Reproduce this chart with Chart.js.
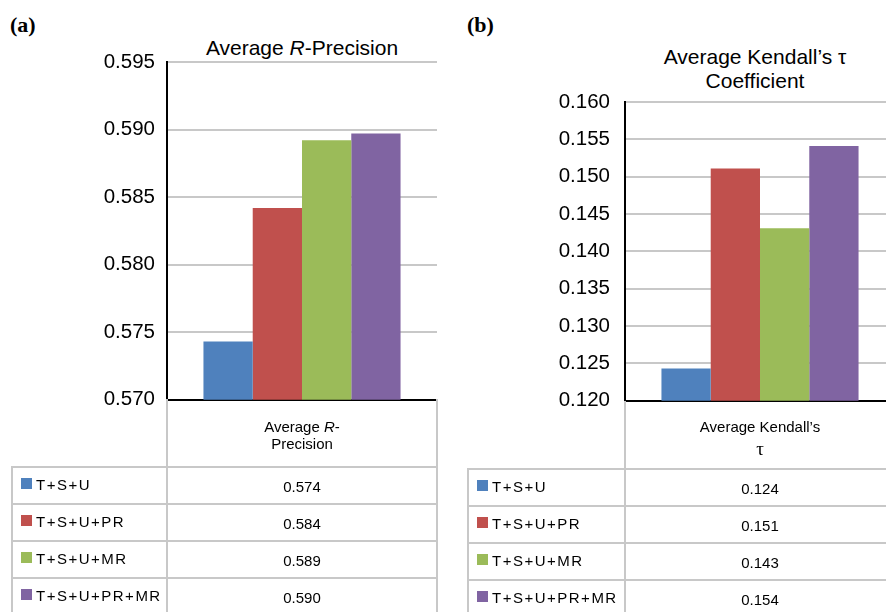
<!DOCTYPE html>
<html>
<head>
<meta charset="utf-8">
<script src="https://cdn.jsdelivr.net/npm/chart.js@4.4.1/dist/chart.umd.min.js"></script>
<style>
  html, body { margin: 0; padding: 0; background: #fff; }
  #page { position: relative; width: 886px; height: 612px; overflow: hidden; font-family: 'Liberation Sans', Arial, sans-serif; color: #000; }
  .abs { position: absolute; }
  .panel-label { font-family: 'Liberation Serif', 'Times New Roman', serif; font-weight: bold; font-size: 22px; }
  .title { font-size: 21px; line-height: 24px; text-align: center; }
  .line { position: absolute; background: #c8c8c8; }
  .cell { position: absolute; font-size: 15px; line-height: 18px; text-align: center; white-space: nowrap; }
  .legend-text { position: absolute; font-size: 15px; line-height: 18px; letter-spacing: 1.5px; white-space: nowrap; }
  .swatch { position: absolute; width: 11px; height: 11px; }
</style>
</head>
<body>
<div id="page">
  <div class="abs panel-label" style="left:10px; top:12px;">(a)</div>
  <div class="abs panel-label" style="left:467px; top:12px;">(b)</div>
  <div class="abs title" style="left:167px; top:36px; width:270px;">Average <i>R</i>-Precision</div>
  <div class="abs title" style="left:605px; top:45px; width:300px;">Average Kendall’s τ<br>Coefficient</div>
  <div class="abs" style="left:0; top:0; width:443px; height:424px;"><canvas id="chartA" width="443" height="424"></canvas></div>
  <div class="abs" style="left:443px; top:0; width:460px; height:428px;"><canvas id="chartB" width="460" height="428"></canvas></div>
</div>
<script>
// series shared by both panels
const seriesNames = ['T+S+U', 'T+S+U+PR', 'T+S+U+MR', 'T+S+U+PR+MR'];
const seriesColors = ['#4F81BD', '#C0504D', '#9BBB59', '#8064A2'];

// (a) Average R-Precision
const precisionValues = [0.5743, 0.5842, 0.5892, 0.5897];
const precisionTable = ['0.574', '0.584', '0.589', '0.590'];
const precisionAxis = { min: 0.570, max: 0.595, step: 0.005 };

// (b) Average Kendall's tau
const kendallValues = [0.1243, 0.1511, 0.1431, 0.1541];
const kendallTable = ['0.124', '0.151', '0.143', '0.154'];
const kendallAxis = { min: 0.120, max: 0.160, step: 0.005 };

Chart.defaults.font.family = "'Liberation Sans', Arial, sans-serif";
Chart.defaults.color = '#000';

function makeChart(id, values, axis, yWidth, padding, tickPad) {
  const ctx = document.getElementById(id).getContext('2d');
  return new Chart(ctx, {
    type: 'bar',
    data: {
      labels: [''],
      datasets: seriesNames.map((name, i) => ({
        label: name,
        data: [values[i]],
        backgroundColor: seriesColors[i],
        borderWidth: 0,
        categoryPercentage: 0.73,
        barPercentage: 1.0
      }))
    },
    options: {
      responsive: false,
      animation: false,
      layout: { padding: padding },
      plugins: {
        legend: { display: false },
        title: { display: false },
        tooltip: { enabled: false }
      },
      scales: {
        x: {
          grid: { display: false, drawTicks: false },
          ticks: { display: false },
          border: { display: true, color: '#000', width: 2 },
          afterFit: scale => { scale.height = 0; }
        },
        y: {
          min: axis.min,
          max: axis.max,
          ticks: {
            stepSize: axis.step,
            padding: tickPad,
            font: { size: 20.5 },
            color: '#000',
            callback: v => Number(v).toFixed(3)
          },
          grid: { color: '#c8c8c8', lineWidth: 2, drawTicks: false },
          border: { display: true, color: '#000', width: 2 },
          afterFit: scale => { scale.width = yWidth; }
        }
      }
    }
  });
}

makeChart('chartA', precisionValues, precisionAxis, 167, { top: 62, bottom: 11, left: 0, right: 6 }, 12);
makeChart('chartB', kendallValues, kendallAxis, 182, { top: 102, bottom: 11, left: 0, right: 8 }, 15);

// data tables under each chart
const page = document.getElementById('page');

function addLine(x, y, w, h) {
  const d = document.createElement('div');
  d.className = 'line';
  d.style.left = x + 'px'; d.style.top = y + 'px';
  d.style.width = w + 'px'; d.style.height = h + 'px';
  page.appendChild(d);
}

function addText(cls, html, x, y, w) {
  const d = document.createElement('div');
  d.className = cls;
  d.innerHTML = html;
  d.style.left = x + 'px'; d.style.top = y + 'px';
  if (w) d.style.width = w + 'px';
  page.appendChild(d);
  return d;
}

function buildTable(t) {
  const rowH = 37;
  addLine(t.colX - 1, t.top, 2, 612 - t.top);
  addLine(t.rightX - 1, t.top, 2, 612 - t.top);
  addLine(t.leftX - 1, t.headBottom, 2, 612 - t.headBottom);
  for (let i = 0; i < seriesNames.length; i++) {
    addLine(t.leftX - 1, t.headBottom + i * rowH - 1, t.rightX - t.leftX + 2, 2);
  }
  t.header.forEach((h, i) => {
    const el = addText('cell', h.text, t.colX, h.y - 9, t.rightX - t.colX);
    if (h.style) el.style.cssText += h.style;
  });
  seriesNames.forEach((name, i) => {
    const cy = t.headBottom + i * rowH + rowH / 2;
    const sw = document.createElement('div');
    sw.className = 'swatch';
    sw.style.left = (t.leftX + 9) + 'px';
    sw.style.top = (cy - 8) + 'px';
    sw.style.background = seriesColors[i];
    page.appendChild(sw);
    addText('legend-text', name, t.leftX + 24, cy - 10);
    addText('cell', t.values[i], t.colX, cy - 8, t.rightX - t.colX);
  });
}

buildTable({
  leftX: 12, colX: 167, rightX: 437, top: 399, headBottom: 467,
  header: [{ text: 'Average <i>R</i>-', y: 427 }, { text: 'Precision', y: 444 }],
  values: precisionTable
});
buildTable({
  leftX: 468, colX: 625, rightX: 895, top: 401, headBottom: 469,
  header: [{ text: 'Average Kendall’s', y: 427 },
           { text: 'τ', y: 449, style: "font-family:'Liberation Serif',serif;font-size:19px;" }],
  values: kendallTable
});
</script>
</body>
</html>
